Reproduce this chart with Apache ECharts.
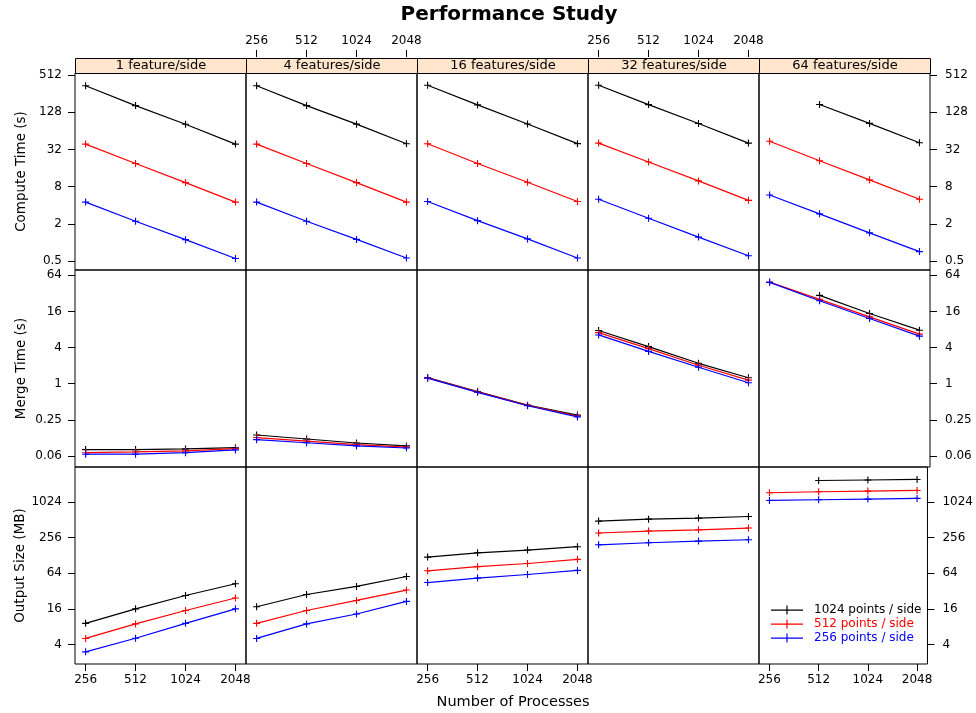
<!DOCTYPE html>
<html>
<head>
<meta charset="utf-8">
<title>Performance Study</title>
<script src="https://cdn.jsdelivr.net/npm/echarts@6/dist/echarts.min.js"></script>
<style>
html, body { margin: 0; padding: 0; background: #fff; }
#chart { width: 976px; height: 713px; }
</style>
</head>
<body>
<div id="chart"></div>
<script>
const procs = [256, 512, 1024, 2048];
const panels = ['1 feature/side', '4 features/side', '16 features/side', '32 features/side', '64 features/side'];
const resolutions = ['1024 points / side', '512 points / side', '256 points / side'];
const colors = ['#000000', '#ff0000', '#0000ff'];

// one inner array per panel, values at 256, 512, 1024, 2048 processes
const compute1024 = [[343, 164, 81.6, 39], [343, 164, 82, 39.5], [350, 168, 82.7, 39.7], [350, 170, 84, 40.5], [null, 171, 84.4, 41]];
const compute512 = [[39, 18.9, 9.3, 4.5], [39, 18.9, 9.3, 4.5], [39.5, 18.9, 9.4, 4.6], [40.5, 20, 9.9, 4.8], [43.4, 21, 10.3, 5.0]];
const compute256 = [[4.5, 2.2, 1.11, 0.55], [4.5, 2.2, 1.12, 0.56], [4.6, 2.25, 1.14, 0.56], [5.0, 2.46, 1.22, 0.61], [5.85, 2.9, 1.43, 0.71]];

const merge1024 = [[0.080, 0.080, 0.082, 0.086], [0.14, 0.12, 0.103, 0.092], [1.27, 0.74, 0.44, 0.30], [7.7, 4.16, 2.19, 1.26], [null, 29.6, 14.8, 7.8]];
const merge512 = [[0.071, 0.073, 0.076, 0.083], [0.127, 0.111, 0.097, 0.088], [1.25, 0.73, 0.435, 0.29], [7.1, 3.85, 2.03, 1.15], [49.5, 25.4, 13, 6.7]];
const merge256 = [[0.067, 0.067, 0.071, 0.079], [0.117, 0.104, 0.092, 0.085], [1.24, 0.72, 0.43, 0.28], [6.5, 3.46, 1.88, 1.04], [48.9, 24.1, 12.2, 6.2]];

const output1024 = [[9.1, 16, 26.9, 42.5], [17.4, 28, 38.3, 56.5], [120, 142, 158, 180], [488, 526, 549, 584], [null, 2370, 2418, 2470]];
const output512 = [[5.06, 8.9, 15, 24.4], [9.1, 15, 22.2, 33.3], [70.5, 82.7, 93.7, 110], [307, 331, 348, 372], [1470, 1530, 1570, 1610]];
const output256 = [[3.0, 5.1, 9.1, 16], [5.06, 8.9, 13.1, 21.4], [44.6, 53, 61, 71.5], [194, 210, 224, 236], [1090, 1120, 1150, 1180]];

const computeTicks = [0.5, 2, 8, 32, 128, 512];
const computeLabels = ['0.5', '2', '8', '32', '128', '512'];
const mergeTicks = [0.0625, 0.25, 1, 4, 16, 64];
const mergeLabels = ['0.06', '0.25', '1', '4', '16', '64'];
const outputTicks = [4, 16, 64, 256, 1024];
const outputLabels = ['4', '16', '64', '256', '1024'];

const rows = [
  { title: 'Compute Time (s)', data: [compute1024, compute512, compute256], ticks: computeTicks, labels: computeLabels, min: 0.358, max: 552 },
  { title: 'Merge Time (s)', data: [merge1024, merge512, merge256], ticks: mergeTicks, labels: mergeLabels, min: 0.041, max: 78.5 },
  { title: 'Output Size (MB)', data: [output1024, output512, output256], ticks: outputTicks, labels: outputLabels, min: 1.87, max: 4010 }
];

const font = 'DejaVu Sans';
const panelW = 171, panelH = 197, left0 = 75, top0 = 73;
const plus = 'path://M0,4.2h10v1.6h-10z M4.2,0h1.6v10h-1.6z';

const grid = [], xAxis = [], yAxis = [], series = [];
rows.forEach((row, r) => {
  panels.forEach((p, c) => {
    const i = r * 5 + c;
    grid.push({
      left: left0 + c * panelW, top: top0 + r * panelH, width: panelW, height: panelH,
      show: true, borderColor: '#000', borderWidth: 1, containLabel: false
    });
    const xTop = r === 0;
    const xShow = (r === 0 && (c === 1 || c === 3)) || (r === 2 && c % 2 === 0);
    xAxis.push({
      type: 'log', logBase: 2, gridIndex: i, min: 221, max: 2370,
      position: xTop ? 'top' : 'bottom', offset: xTop ? 16 : 0,
      axisLine: { show: false }, splitLine: { show: false },
      axisTick: { show: xShow, customValues: procs, length: 7, inside: false, lineStyle: { color: '#000' } },
      axisLabel: { show: xShow, customValues: procs, formatter: v => String(Math.round(v)), margin: 10, color: '#000', fontFamily: font, fontSize: 12 }
    });
    const yShow = c === 0 || c === 4;
    const lab = (v) => row.labels[row.ticks.findIndex(t => Math.abs(t - v) / t < 1e-6)] || '';
    yAxis.push({
      type: 'log', logBase: 2, gridIndex: i, min: row.min, max: row.max,
      position: c === 4 ? 'right' : 'left',
      name: c === 0 ? row.title : '', nameLocation: 'middle', nameGap: 47,
      nameTextStyle: { color: '#000', fontFamily: font, fontSize: 13.5 },
      axisLine: { show: false }, splitLine: { show: false },
      axisTick: { show: yShow, customValues: row.ticks, length: 7, inside: false, lineStyle: { color: '#000' } },
      axisLabel: { show: yShow, customValues: row.ticks, formatter: lab, margin: c === 4 ? 15 : 13, color: '#000', fontFamily: font, fontSize: 12 }
    });
    row.data.forEach((arr, s) => {
      series.push({
        name: resolutions[s], type: 'line', xAxisIndex: i, yAxisIndex: i,
        data: procs.map((n, k) => [n, arr[c][k]]).filter(d => d[1] != null),
        symbol: plus, symbolSize: 7, showSymbol: true,
        itemStyle: { color: colors[s] }, lineStyle: { color: colors[s], width: 1.2 },
        emphasis: { disabled: true }, silent: true
      });
    });
  });
});

const graphic = panels.map((p, c) => ({
  type: 'group', left: left0 + c * panelW, top: 58,
  children: [
    { type: 'rect', shape: { x: 0, y: 0, width: panelW, height: 15 }, style: { fill: '#ffe5cc', stroke: '#000', lineWidth: 1 } },
    { type: 'text', x: panelW / 2, y: 7.5, style: { text: p, fill: '#000', font: '13px "DejaVu Sans"', align: 'center', verticalAlign: 'middle' } }
  ]
}));

const chart = echarts.init(document.getElementById('chart'));
chart.setOption({
  animation: false,
  backgroundColor: '#fff',
  title: [
    { text: 'Performance Study', left: 504, top: 0, textAlign: 'center', textStyle: { fontFamily: font, fontSize: 20, fontWeight: 'bold', color: '#000' } },
    { text: 'Number of Processes', left: 508, top: 690, textAlign: 'center', textStyle: { fontFamily: font, fontSize: 14.5, fontWeight: 'normal', color: '#000' } }
  ],
  legend: {
    left: 766, top: 599, orient: 'vertical', itemWidth: 32, itemHeight: 9, itemGap: 2,
    selectedMode: false, icon: 'path://M0,4h32v1.2h-32z M15.4,0h1.2v9h-1.2z',
    textStyle: { fontFamily: font, fontSize: 12, padding: [0, 0, 0, 6] },
    data: resolutions.map((n, s) => ({ name: n, itemStyle: { color: colors[s] }, textStyle: { color: colors[s] } }))
  },
  grid, xAxis, yAxis, series, graphic
});
</script>
</body>
</html>
